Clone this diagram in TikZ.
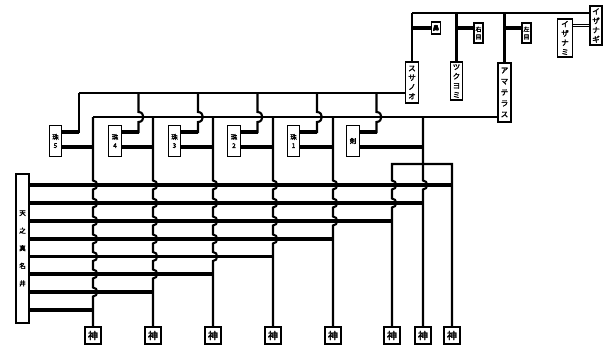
\documentclass[tikz,border=0pt]{standalone}
\usepackage{fontspec}
\newfontfamily\jp[AutoFakeBold=2.5]{Noto Sans CJK JP}
\newcommand\vwire[3]{\draw[medl] (#1) \foreach \yy in {#3} { -- (#1 |- 0,\yy-4.5) .. controls +(5.5,0) and +(5.5,0) .. (#1 |- 0,\yy+4.5) } -- (#2.north);}
\begin{document}
\begin{tikzpicture}[x=1pt,y=-1pt,
  box/.style={draw, line width=1.4pt, fill=white, inner sep=0pt, align=center},
  kbox/.style={box, minimum width=16, minimum height=17, font=\jp\bfseries\fontsize{10}{10}\selectfont},
  tbox/.style={box, minimum width=12.5, minimum height=31, font=\jp\bfseries\fontsize{6.5}{8.5}\selectfont},
  nbox/.style={box, font=\jp\bfseries\fontsize{7.5}{9.3}\selectfont},
  thinl/.style={line width=1.3pt},
  medl/.style={line width=2.1pt},
  thkl/.style={line width=3.1pt},
  vthk/.style={line width=3.8pt},
]
\useasboundingbox (0,0) rectangle (608,348);

% top generation
\node[nbox, minimum width=12, minimum height=39] (izanagi) at (596,25.5) {イ\\ザ\\ナ\\ギ};
\node[nbox, minimum width=15, minimum height=38] (izanami) at (565,38) {イ\\ザ\\ナ\\ミ};
\node[box, minimum width=9, minimum height=12, font=\jp\bfseries\fontsize{6.5}{7}\selectfont] (hana) at (436,28) {鼻};
\node[box, minimum width=9, minimum height=20, font=\jp\bfseries\fontsize{6}{7.5}\selectfont] (migime) at (478.5,33) {右\\目};
\node[box, minimum width=9, minimum height=20, font=\jp\bfseries\fontsize{6}{7.5}\selectfont] (hidarime) at (526.5,33) {左\\目};
\node[nbox, minimum width=13, minimum height=41] (susanoo) at (412,82.5) {ス\\サ\\ノ\\オ};
\node[nbox, minimum width=12, minimum height=38] (tsukuyomi) at (456.5,81) {ツ\\ク\\ヨ\\ミ};
\node[box, minimum width=13, minimum height=59, font=\jp\bfseries\fontsize{7.5}{11}\selectfont] (amaterasu) at (504.5,92.5) {ア\\マ\\テ\\ラ\\ス};

% beads and sword
\node[tbox] (p1) at (55.5,141) {珠\\5};
\node[tbox] (p2) at (115,141) {珠\\4};
\node[tbox] (p3) at (174.5,141) {珠\\3};
\node[tbox] (p4) at (234,141) {珠\\2};
\node[tbox] (p5) at (293.5,141) {珠\\1};
\node[tbox] (p6) at (353,141) {剣};

% well
\node[box, minimum width=13, minimum height=149, font=\jp\bfseries\fontsize{6.5}{17.6}\selectfont] (ten) at (22.5,248.5) {天\\之\\真\\名\\井};

% gods
\foreach \i/\x in {1/93,2/153,3/213,4/273,5/333,6/392,7/423,8/452}
  \node[kbox] (k\i) at (\x,335.5) {神};

% coordinates
\coordinate (T) at (412,13);
\coordinate (A) at (79,93);
\coordinate (B) at (93,117);
\coordinate (K) at (392,164);
\coordinate (R1) at (0,132);
\coordinate (R2) at (0,147);
\foreach \i/\x in {1/79,2/138.5,3/198,4/257.5,5/317,6/376.5}
  \coordinate (u\i) at (\x,93);
\foreach \i in {1,2,3,4,5,7}
  \coordinate (w\i) at (k\i |- B);
\coordinate (w8) at (k8 |- K);

% top lines
\draw[thinl] (izanagi.west |- T) -- (T);
\draw[medl] (T) -- (susanoo.north);
\draw[medl] (tsukuyomi.north |- T) -- (tsukuyomi.north);
\draw[medl] (amaterasu.north |- T) -- (amaterasu.north);
\draw[vthk] (T |- hana) -- (hana.west);
\draw[vthk] (tsukuyomi.north |- hana) -- (migime.west |- hana);
\draw[vthk] (amaterasu.north |- hana) -- (hidarime.west |- hana);
\draw[line width=0.8pt, double, double distance=1.6pt] (izanami.east |- izanagi) -- (izanagi.west);

% Susanoo line and Amaterasu line
\draw[thinl] (susanoo.west |- A) -- (A);
\draw[medl] (amaterasu.west |- B) -- (B);

% drops to beads
\draw[medl] (u1) -- (u1 |- R1) -- (p1.east |- R1);
\draw[thkl] (u1 |- R1) -- (p1.east |- R1);
\foreach \i in {2,...,6}{
  \draw[medl] (u\i) -- (u\i |- 0,112) .. controls +(6.5,0) and +(6.5,0) .. (u\i |- 0,122) -- (u\i |- R1) -- (p\i.east |- R1);
  \draw[thkl] (u\i |- R1) -- (p\i.east |- R1);
}
\foreach \i/\j in {1/1,2/2,3/3,4/4,5/5,6/7}
  \draw[vthk] (p\i.east |- R2) -- (w\j |- R2);

% horizontal lines from the well
\foreach \yy/\kk in {185/8, 203/7, 221/6, 239/5, 256.5/4, 274/3, 292/2, 310/1}
  \draw[thkl] (ten.east |- 0,\yy) -- (k\kk |- 0,\yy);

% verticals to the gods
\vwire{w1}{k1}{185,203,221,239,256.5,274,292}
\vwire{w2}{k2}{185,203,221,239,256.5,274}
\vwire{w3}{k3}{185,203,221,239,256.5}
\vwire{w4}{k4}{185,203,221,239}
\vwire{w5}{k5}{185,203,221}
\draw[medl] (k8.north) -- (w8) -- (K) \foreach \yy in {185,203} { -- (K |- 0,\yy-4.5) .. controls +(5.5,0) and +(5.5,0) .. (K |- 0,\yy+4.5) } -- (k6.north);
\vwire{w7}{k7}{185}
\end{tikzpicture}
\end{document}
